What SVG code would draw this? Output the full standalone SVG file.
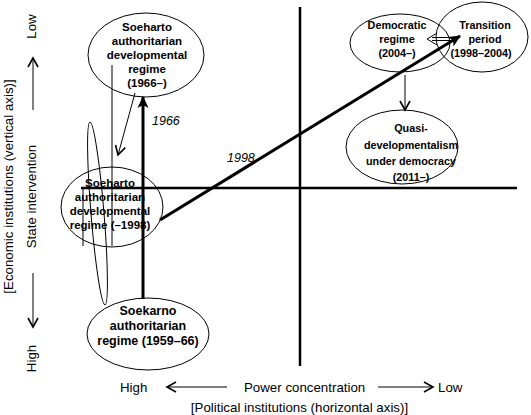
<svg xmlns="http://www.w3.org/2000/svg" width="531" height="415" viewBox="0 0 531 415">
<style>
.ax{stroke:#000;stroke-width:2.5;fill:none}
.th{stroke:#000;stroke-width:1;fill:none}
.tk{stroke:#000;stroke-width:3;fill:none}
.el{stroke:#000;stroke-width:1;fill:none}
.nt{font-family:"Liberation Sans",Arial,sans-serif;font-weight:bold;text-anchor:middle;fill:#000}
.lb{font-family:"Liberation Sans",Arial,sans-serif;font-size:13.3px;fill:#000}
.yr{font-family:"Liberation Sans",Arial,sans-serif;font-style:italic;font-size:12.5px;fill:#000}
</style>
<defs>
<marker id="hThick" markerWidth="14" markerHeight="12" refX="11" refY="6" orient="auto" markerUnits="userSpaceOnUse"><path d="M0,0.5 L12,6 L0,11.5 L3,6 Z" fill="#000"/></marker>
<marker id="hOpen" markerWidth="12" markerHeight="12" refX="10" refY="6" orient="auto" markerUnits="userSpaceOnUse"><path d="M1,1 L10,6 L1,11" fill="none" stroke="#000" stroke-width="1.6"/></marker>
</defs>
<rect width="531" height="415" fill="#fff"/>

<g id="axes">
<line class="ax" x1="300" y1="7" x2="300" y2="366"/>
<line class="ax" x1="81" y1="188" x2="517" y2="188"/>
</g>

<g id="axis-labels">
<text class="lb" text-anchor="middle" transform="translate(36,26.5) rotate(-90)">Low</text>
<text class="lb" text-anchor="middle" transform="translate(36,196.5) rotate(-90)">State intervention</text>
<text class="lb" text-anchor="middle" transform="translate(36,358.5) rotate(-90)">High</text>
<text class="lb" text-anchor="middle" transform="translate(13,186.5) rotate(-90)">[Economic institutions (vertical axis)]</text>
<line class="th" x1="33" y1="110" x2="33" y2="58" marker-end="url(#hOpen)"/>
<line class="th" x1="33" y1="273" x2="33" y2="327" marker-end="url(#hOpen)"/>
<text class="lb" x="120" y="392">High</text>
<text class="lb" x="244" y="392">Power concentration</text>
<text class="lb" x="438" y="392">Low</text>
<text class="lb" x="299.5" y="412" text-anchor="middle">[Political institutions (horizontal axis)]</text>
<line class="th" x1="227" y1="387" x2="167" y2="387" marker-end="url(#hOpen)"/>
<line class="th" x1="378" y1="387" x2="433" y2="387" marker-end="url(#hOpen)"/>
</g>

<g id="n-soeharto-1966">
<ellipse class="el" cx="146" cy="55" rx="58" ry="42"/>
<text class="nt" font-size="11.5" x="147" y="31">Soeharto</text>
<text class="nt" font-size="11.5" x="147" y="45">authoritarian</text>
<text class="nt" font-size="11.5" x="147" y="59">developmental</text>
<text class="nt" font-size="11.5" x="147" y="73">regime</text>
<text class="nt" font-size="11.5" x="147" y="87">(1966–)</text>
</g>

<g id="n-soeharto-1998">
<ellipse class="el" cx="112" cy="207" rx="51" ry="40"/>
<text class="nt" font-size="11.5" x="110" y="187">Soeharto</text>
<text class="nt" font-size="11.5" x="110" y="201">authoritarian</text>
<text class="nt" font-size="11.5" x="110" y="215">developmental</text>
<text class="nt" font-size="11.5" x="110" y="229">regime (–1998)</text>
</g>

<g id="n-soekarno">
<ellipse class="el" cx="148" cy="334" rx="61" ry="36"/>
<text class="nt" font-size="12.5" x="148" y="315">Soekarno</text>
<text class="nt" font-size="12.5" x="148" y="330">authoritarian</text>
<text class="nt" font-size="12.5" x="148" y="345">regime (1959–66)</text>
</g>

<g id="n-democratic">
<ellipse class="el" cx="400" cy="43" rx="50" ry="29"/>
<text class="nt" font-size="10.8" x="397" y="29">Democratic</text>
<text class="nt" font-size="10.8" x="397" y="43">regime</text>
<text class="nt" font-size="10.8" x="397" y="57">(2004–)</text>
</g>

<g id="n-transition">
<ellipse class="el" cx="482" cy="37" rx="46" ry="35"/>
<text class="nt" font-size="10.8" x="485" y="29">Transition</text>
<text class="nt" font-size="10.8" x="485" y="43">period</text>
<text class="nt" font-size="10.8" x="481" y="57">(1998–2004)</text>
</g>

<g id="n-quasi">
<ellipse class="el" cx="402" cy="147" rx="56" ry="37"/>
<text class="nt" font-size="10.8" x="411" y="132">Quasi-</text>
<text class="nt" font-size="10.8" x="411" y="149">developmentalism</text>
<text class="nt" font-size="10.8" x="411" y="165">under democracy</text>
<text class="nt" font-size="10.8" x="411" y="181">(2011–)</text>
</g>

<g id="connectors">
<ellipse class="th" cx="97.5" cy="213.5" rx="6.5" ry="91.5" transform="rotate(-4.7 97.5 213.5)"/>
<line class="th" x1="112" y1="65" x2="112" y2="246"/>
<line class="th" x1="83" y1="188" x2="83" y2="246"/>
<line class="tk" x1="143" y1="299" x2="143" y2="97" marker-end="url(#hThick)"/>
<line class="th" x1="135" y1="93" x2="118" y2="155" marker-end="url(#hOpen)"/>
<line class="tk" x1="160" y1="220" x2="460" y2="36" marker-end="url(#hThick)"/>
<line class="th" x1="432" y1="37.5" x2="456" y2="37.5"/>
<line class="th" x1="432" y1="40.5" x2="456" y2="40.5"/>
<polyline class="th" stroke-width="1.6" points="437,33 427,39 437,45"/>
<line class="th" x1="405" y1="75" x2="405" y2="110" marker-end="url(#hOpen)"/>
<text class="yr" x="152" y="125">1966</text>
<text class="yr" x="227" y="162">1998</text>
</g>
</svg>
